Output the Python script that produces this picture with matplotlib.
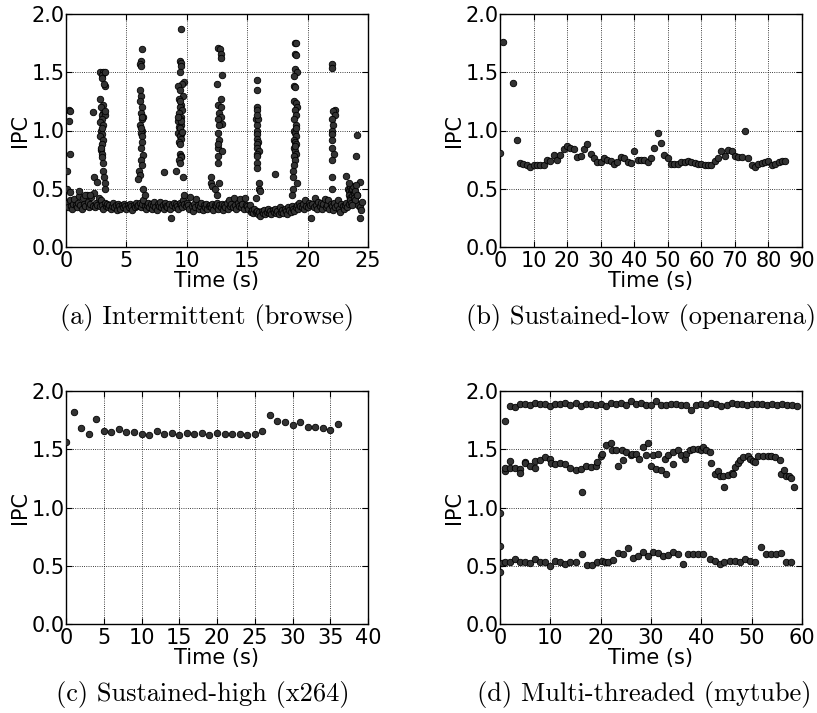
import numpy as np
import matplotlib
matplotlib.use('Agg')
import matplotlib.pyplot as plt

# ---- (a) Intermittent (browse): baseline samples every 0.1 s
a_base = [
    0.36, 0.38, 0.34, 0.40, 0.35, 0.33, 0.37, 0.41, 0.36, 0.34,
    0.38, 0.44, 0.36, 0.33, 0.42, 0.37, 0.35, 0.45, 0.39, 0.34,
    0.37, 0.43, 0.35, 0.46, 0.34, 0.38, 0.36, 0.42, 0.35, 0.40,
    0.36, 0.33, 0.38, 0.35, 0.37, 0.34, 0.36, 0.33, 0.35, 0.38,
    0.34, 0.36, 0.32, 0.37, 0.35, 0.33, 0.36, 0.34, 0.37, 0.35,
    0.33, 0.36, 0.34, 0.37, 0.35, 0.32, 0.36, 0.34, 0.38, 0.35,
    0.36, 0.38, 0.34, 0.37, 0.40, 0.35, 0.33, 0.36, 0.38, 0.34,
    0.37, 0.33, 0.36, 0.39, 0.34, 0.32, 0.37, 0.35, 0.39, 0.34,
    0.36, 0.33, 0.38, 0.35, 0.34, 0.37, 0.33, 0.25, 0.36, 0.38,
    0.34, 0.37, 0.35, 0.33, 0.38, 0.36, 0.34, 0.40, 0.37, 0.35,
    0.38, 0.36, 0.33, 0.43, 0.35, 0.31, 0.37, 0.34, 0.41, 0.36,
    0.33, 0.35, 0.38, 0.32, 0.36, 0.34, 0.37, 0.33, 0.35, 0.36,
    0.34, 0.37, 0.32, 0.36, 0.35, 0.38, 0.33, 0.36, 0.34, 0.37,
    0.32, 0.36, 0.34, 0.38, 0.33, 0.40, 0.35, 0.37, 0.34, 0.42,
    0.36, 0.33, 0.38, 0.35, 0.41, 0.34, 0.37, 0.33, 0.42, 0.36,
    0.35, 0.33, 0.36, 0.30, 0.32, 0.29, 0.33, 0.30, 0.31, 0.28,
    0.30, 0.27, 0.31, 0.29, 0.32, 0.28, 0.30, 0.33, 0.29, 0.31,
    0.28, 0.32, 0.30, 0.33, 0.29, 0.31, 0.28, 0.34, 0.30, 0.32,
    0.29, 0.33, 0.31, 0.28, 0.34, 0.32, 0.30, 0.35, 0.33, 0.31,
    0.34, 0.36, 0.33, 0.38, 0.35, 0.34, 0.37, 0.33, 0.40, 0.35,
    0.34, 0.38, 0.36, 0.25, 0.37, 0.34, 0.42, 0.36, 0.33, 0.39,
    0.35, 0.38, 0.33, 0.37, 0.41, 0.34, 0.36, 0.40, 0.33, 0.37,
    0.35, 0.32, 0.38, 0.34, 0.36, 0.40, 0.33, 0.30, 0.37, 0.35,
    0.33, 0.36, 0.38, 0.34, 0.37, 0.42, 0.45, 0.40, 0.48, 0.43,
    0.38, 0.45, 0.36, 0.34, 0.32, 0.39,
]
a_base_t = np.arange(len(a_base)) * 0.1

# bursts (time, ipc)
a_burst = [
    (0.05, 0.65), (0.1, 0.50), (0.25, 1.18), (0.3, 1.17), (0.25, 1.08), (0.3, 0.80),
    (0.3, 0.47), (1.1, 0.48), (1.6, 0.45), (2.0, 0.45),
    (2.85, 1.50), (3.1, 1.50), (3.0, 1.48), (3.2, 1.50), (2.95, 1.45), (3.25, 1.38),
    (3.15, 1.40), (2.8, 1.27), (3.05, 1.22), (2.9, 1.20), (3.1, 1.15), (2.95, 1.13),
    (3.2, 1.13), (3.0, 1.10), (2.85, 1.07), (3.1, 1.05), (2.9, 1.00), (3.0, 0.97),
    (2.85, 0.95), (3.05, 0.92), (2.95, 0.88), (2.9, 0.83), (3.0, 0.80), (2.95, 0.77),
    (3.05, 0.72), (3.1, 0.65), (3.15, 0.60), (3.2, 0.55), (3.25, 0.50), (2.35, 0.60),
    (2.55, 0.56), (2.2, 1.16), (3.25, 1.17), (3.0, 1.02), (2.9, 0.85),
    (6.25, 1.70), (6.2, 1.60), (6.15, 1.57), (6.2, 1.55), (6.15, 1.35), (6.2, 1.30),
    (6.15, 1.25), (6.3, 1.20), (6.2, 1.15), (6.35, 1.12), (6.25, 1.10), (6.15, 1.05),
    (6.3, 1.00), (6.2, 0.98), (6.25, 0.95), (6.3, 0.90), (6.2, 0.85), (6.35, 0.79),
    (6.2, 0.75), (6.25, 0.70), (6.05, 0.65), (6.1, 0.62), (6.0, 0.58), (6.4, 0.50),
    (6.5, 0.45), (8.15, 0.64), (6.2, 1.02), (6.3, 1.12),
    (9.55, 1.87), (9.45, 1.60), (9.55, 1.58), (9.5, 1.55), (9.45, 1.50), (9.75, 1.42),
    (9.6, 1.40), (9.3, 1.38), (9.45, 1.35), (9.65, 1.30), (9.35, 1.27), (9.5, 1.22),
    (9.4, 1.20), (9.6, 1.18), (9.35, 1.15), (9.5, 1.12), (9.4, 1.10), (9.3, 1.08),
    (9.55, 1.05), (9.35, 1.03), (9.45, 1.00), (9.3, 0.98), (9.55, 0.97), (9.4, 0.95),
    (9.5, 0.93), (9.35, 0.90), (9.45, 0.88), (9.4, 0.80), (9.55, 0.78), (9.5, 0.77),
    (9.35, 0.75), (9.45, 0.72), (9.1, 0.65), (9.7, 0.60), (9.75, 0.45), (9.45, 1.25),
    (9.5, 1.08), (9.4, 1.02), (9.6, 0.99), (9.3, 1.12),
    (12.55, 1.71), (12.75, 1.70), (12.8, 1.66), (12.8, 1.62), (12.9, 1.48), (12.5, 1.40),
    (12.8, 1.27), (12.55, 1.22), (12.85, 1.20), (12.65, 1.15), (12.85, 1.12), (12.6, 1.10),
    (12.95, 1.06), (12.55, 0.98), (12.7, 0.92), (12.55, 0.85), (12.9, 0.82), (12.6, 0.78),
    (12.55, 0.72), (12.0, 0.60), (12.0, 0.55), (12.05, 0.52), (12.3, 0.50), (12.5, 0.45),
    (12.65, 0.55), (12.6, 0.88), (12.65, 1.05),
    (15.8, 1.43), (15.8, 1.35), (15.85, 1.20), (15.8, 1.18), (15.7, 1.10), (15.85, 1.05),
    (15.8, 1.00), (15.85, 0.97), (15.8, 0.93), (15.9, 0.90), (15.8, 0.88), (15.85, 0.85),
    (15.95, 0.82), (15.85, 0.80), (15.8, 0.78), (15.85, 0.72), (15.8, 0.68), (16.0, 0.55),
    (15.95, 0.50), (16.1, 0.48), (15.75, 0.42), (17.3, 0.63), (15.9, 1.10), (15.8, 1.13),
    (18.95, 1.75), (19.05, 1.75), (18.95, 1.66), (19.05, 1.65), (18.95, 1.53), (19.1, 1.50),
    (18.9, 1.47), (18.85, 1.38), (18.95, 1.37), (18.9, 1.25), (19.05, 1.24), (19.1, 1.20),
    (18.95, 1.18), (19.05, 1.13), (18.9, 1.10), (19.0, 1.05), (18.9, 1.00), (18.95, 0.98),
    (19.0, 0.95), (18.9, 0.92), (18.95, 0.90), (19.0, 0.88), (18.9, 0.85), (18.95, 0.82),
    (19.0, 0.80), (18.9, 0.78), (18.95, 0.75), (18.85, 0.70), (18.8, 0.65), (18.75, 0.60),
    (19.1, 0.55), (18.75, 0.50), (18.7, 0.45), (19.0, 1.02), (18.95, 0.87),
    (22.0, 1.57), (22.05, 1.54), (22.25, 1.18), (22.1, 1.17), (22.25, 1.13), (22.05, 1.10),
    (22.1, 1.05), (22.0, 1.00), (22.05, 0.97), (22.0, 0.92), (22.05, 0.85), (22.15, 0.80),
    (22.05, 0.75), (22.05, 0.60), (22.05, 0.50), (23.15, 0.61), (24.05, 0.96), (24.0, 0.78),
    (24.3, 0.56), (24.3, 0.25),
    (23.35, 0.50), (23.45, 0.48), (23.5, 0.52), (23.6, 0.47), (23.4, 0.45), (23.55, 0.42),
    (23.65, 0.50), (23.7, 0.44), (23.5, 0.40), (23.75, 0.52), (23.8, 0.46), (23.6, 0.38),
    (23.85, 0.42), (23.9, 0.48), (23.95, 0.40), (24.0, 0.53), (23.45, 0.55), (24.1, 0.45),
    (23.7, 0.36),
]

# ---- (b) Sustained-low (openarena)
b_t = [0, 1, 4, 5] + list(range(6, 86))
b_ipc = [0.81, 1.76, 1.41, 0.92,
         0.72, 0.71, 0.70, 0.69, 0.70, 0.70, 0.70, 0.70, 0.75, 0.74,
         0.79, 0.75, 0.79, 0.84, 0.87, 0.85, 0.84, 0.77, 0.78, 0.84,
         0.88, 0.80, 0.76, 0.73, 0.73, 0.76, 0.75, 0.74, 0.71, 0.73,
         0.77, 0.76, 0.73, 0.72, 0.82, 0.75, 0.75, 0.75, 0.73, 0.76,
         0.85, 0.98, 0.89, 0.79, 0.76, 0.71, 0.71, 0.71, 0.73, 0.73,
         0.74, 0.73, 0.72, 0.71, 0.71, 0.70, 0.70, 0.70, 0.74, 0.76,
         0.82, 0.78, 0.83, 0.82, 0.78, 0.77, 0.77, 1.00, 0.76, 0.70,
         0.69, 0.71, 0.72, 0.73, 0.74, 0.70, 0.71, 0.73, 0.74, 0.74]

# ---- (c) Sustained-high (x264)
c_t = list(range(0, 37))
c_ipc = [1.56, 1.82, 1.68, 1.63, 1.76, 1.66, 1.65, 1.67, 1.65, 1.65,
         1.63, 1.62, 1.66, 1.63, 1.64, 1.62, 1.64, 1.63, 1.64, 1.62,
         1.64, 1.63, 1.63, 1.63, 1.62, 1.63, 1.66, 1.79, 1.74, 1.73,
         1.71, 1.73, 1.69, 1.69, 1.68, 1.665, 1.72]

# ---- (d) Multi-threaded (mytube): three threads
d_hi_t = list(range(1, 60))
d_hi = [1.74, 1.87, 1.86, 1.89, 1.89, 1.88, 1.90, 1.89, 1.89, 1.87,
        1.89, 1.89, 1.90, 1.88, 1.90, 1.87, 1.89, 1.89, 1.88, 1.89,
        1.87, 1.90, 1.89, 1.90, 1.88, 1.91, 1.89, 1.90, 1.88, 1.88,
        1.91, 1.88, 1.88, 1.89, 1.89, 1.88, 1.88, 1.84, 1.88, 1.89,
        1.88, 1.90, 1.89, 1.87, 1.88, 1.90, 1.89, 1.89, 1.88, 1.89,
        1.89, 1.89, 1.88, 1.89, 1.88, 1.89, 1.88, 1.88, 1.87]

d_mid_t = [0.0, 1.0, 1.0, 2.0, 2.0, 3.0, 4.0, 4.0, 5.0, 5.0, 6.0, 7.0, 7.0, 8.0, 9.0,
           10.0, 10.1, 11.0, 12.0, 13.0, 14.0, 15.0, 16.0, 16.2, 17.0, 18.0, 19.0, 19.3,
           20.0, 20.3, 21.0, 22.0, 22.3, 23.0, 23.5, 24.2, 24.5, 25.0, 26.0, 26.3, 27.0,
           27.6, 28.4, 29.0, 29.4, 30.0, 30.3, 31.0, 31.3, 32.0, 32.7, 33.0, 33.4, 34.4,
           34.4, 35.4, 36.0, 36.7, 37.0, 37.7, 38.4, 39.4, 40.0, 40.3, 41.0, 41.7, 42.0,
           42.7, 43.3, 43.7, 44.3, 44.6, 45.3, 46.0, 46.3, 46.6, 47.3, 47.6, 48.3, 49.3,
           49.6, 50.3, 50.6, 51.3, 52.2, 53.2, 53.9, 54.6, 55.6, 55.9, 56.5, 56.9, 57.5,
           57.9, 58.5]
d_mid = [0.95, 1.31, 1.34, 1.40, 1.34, 1.34, 1.33, 1.30, 1.39, 1.38, 1.36, 1.34, 1.40,
         1.41, 1.43, 1.42, 1.385, 1.37, 1.38, 1.37, 1.34, 1.32, 1.33, 1.13, 1.36, 1.35,
         1.36, 1.39, 1.44, 1.46, 1.54, 1.55, 1.49, 1.49, 1.36, 1.49, 1.41, 1.48, 1.45,
         1.46, 1.46, 1.42, 1.52, 1.45, 1.55, 1.36, 1.45, 1.33, 1.46, 1.32, 1.42, 1.29,
         1.45, 1.37, 1.48, 1.49, 1.45, 1.42, 1.46, 1.49, 1.50, 1.50, 1.49, 1.52, 1.49,
         1.48, 1.38, 1.29, 1.31, 1.27, 1.27, 1.18, 1.28, 1.30, 1.29, 1.35, 1.38, 1.41,
         1.43, 1.44, 1.42, 1.40, 1.39, 1.44, 1.44, 1.44, 1.44, 1.43, 1.41, 1.29, 1.32,
         1.27, 1.27, 1.25, 1.18]

d_lo_t = [0.0, 0.0, 0.3, 1.0, 2.0, 3.0, 4.0, 5.0, 6.0, 7.0, 8.0, 9.0, 10.0, 11.0, 12.0,
          13.0, 14.0, 15.0, 16.3, 17.2, 18.2, 19.2, 20.2, 20.8, 21.5, 22.5, 23.5, 24.5,
          25.5, 26.5, 27.4, 28.4, 29.4, 30.4, 31.4, 32.4, 33.4, 34.4, 35.4, 36.4, 37.4,
          38.4, 39.4, 40.3, 41.7, 42.7, 43.7, 44.6, 45.6, 46.6, 47.6, 48.6, 49.6, 50.6,
          51.9, 52.9, 53.9, 54.9, 55.9, 56.9, 57.9]
d_lo = [0.67, 0.45, 0.52, 0.535, 0.535, 0.56, 0.535, 0.53, 0.52, 0.555, 0.535, 0.535,
        0.50, 0.545, 0.53, 0.515, 0.535, 0.53, 0.60, 0.51, 0.51, 0.535, 0.545, 0.53,
        0.53, 0.55, 0.61, 0.605, 0.65, 0.57, 0.58, 0.615, 0.585, 0.62, 0.61, 0.585,
        0.59, 0.615, 0.605, 0.515, 0.60, 0.60, 0.60, 0.60, 0.555, 0.545, 0.515, 0.535,
        0.545, 0.545, 0.535, 0.56, 0.545, 0.535, 0.66, 0.60, 0.60, 0.605, 0.61, 0.53,
        0.535]

captions = ['(a) Intermittent (browse)', '(b) Sustained-low (openarena)',
            '(c) Sustained-high (x264)', '(d) Multi-threaded (mytube)']

plt.rcParams['font.family'] = 'DejaVu Sans'
plt.rcParams['xtick.direction'] = 'in'
plt.rcParams['ytick.direction'] = 'in'

fig = plt.figure(figsize=(8.17, 7.13), dpi=100)

W = 302 / 817.
H = 233 / 713.
lefts = [66 / 817., 500 / 817.]
bottoms = [(713 - 247) / 713., (713 - 624) / 713.]

ax_a = fig.add_axes([lefts[0], bottoms[0], W, H])
ax_b = fig.add_axes([lefts[1], bottoms[0], W, H])
ax_c = fig.add_axes([lefts[0], bottoms[1], W, H])
ax_d = fig.add_axes([lefts[1], bottoms[1], W, H])

mk = dict(s=22, facecolor='0.2', edgecolor='black', linewidths=0.6, zorder=3)

bt, bi = zip(*a_burst)
ax_a.scatter(a_base_t, a_base, **mk)
ax_a.scatter(bt, bi, **mk)
ax_b.scatter(b_t, b_ipc, **mk)
ax_c.scatter(c_t, c_ipc, **mk)
ax_d.scatter(d_hi_t, d_hi, **mk)
ax_d.scatter(d_mid_t, d_mid, **mk)
ax_d.scatter(d_lo_t, d_lo, **mk)

xmax = [25, 90, 40, 60]
xstep = [5, 10, 5, 10]
for ax, xm, st in zip([ax_a, ax_b, ax_c, ax_d], xmax, xstep):
    ax.set_xlim(0, xm)
    ax.set_ylim(0, 2.0)
    ax.set_xticks(np.arange(0, xm + 1, st))
    ax.set_yticks([0.0, 0.5, 1.0, 1.5, 2.0])
    ax.set_yticklabels(['0.0', '0.5', '1.0', '1.5', '2.0'])
    ax.grid(True, color='black', linestyle=':', linewidth=0.6)
    ax.set_axisbelow(True)
    ax.tick_params(axis='both', labelsize=15, length=4, width=0.8,
                   top=True, right=True)
    ax.tick_params(axis='x', pad=3)
    ax.tick_params(axis='y', pad=1)
    for sp in ax.spines.values():
        sp.set_linewidth(1.0)
    ax.set_xlabel('Time (s)', fontsize=15, labelpad=0)
    ax.set_ylabel('IPC', fontsize=15, labelpad=1)

cap_x = [207 / 817., 641 / 817., 203 / 817., 644 / 817.]
cap_y = [1 - 318 / 713., 1 - 318 / 713., 1 - 695 / 713., 1 - 695 / 713.]
for cx, cy, txt in zip(cap_x, cap_y, captions):
    fig.text(cx, cy, txt, family='cmr10', fontsize=19, ha='center', va='center')

plt.savefig('out.png', dpi=100)
